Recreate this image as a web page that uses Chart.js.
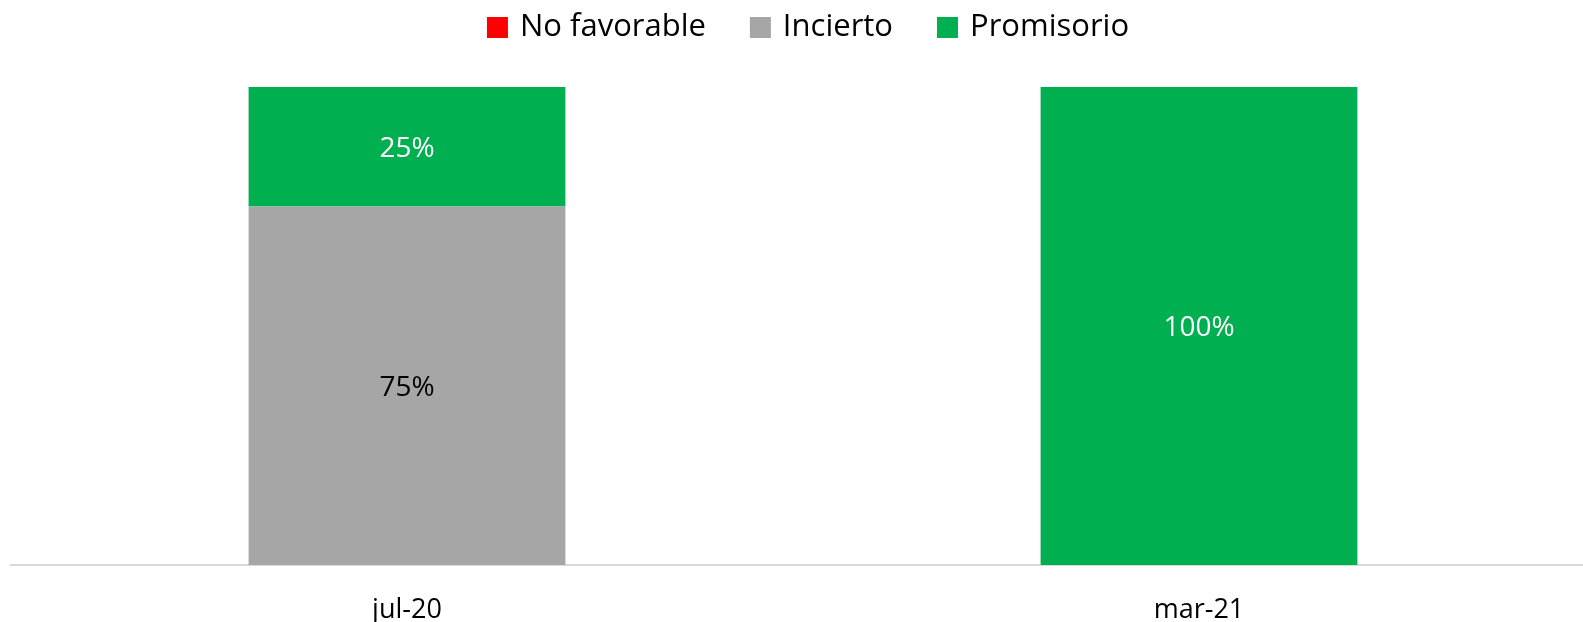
<!DOCTYPE html>
<html lang="es">
<head>
<meta charset="utf-8">
<title>Perspectiva</title>
<script src="https://cdn.jsdelivr.net/npm/chart.js@4/dist/chart.umd.min.js"></script>
<style>
  html, body { margin: 0; padding: 0; background: #ffffff; }
  #wrap { width: 1583px; height: 622px; overflow: hidden; position: relative; }
  canvas { display: block; }
</style>
</head>
<body>
<div id="wrap"><canvas id="chart" width="1605" height="622"></canvas></div>
<script>
// Periods and the share (%) of each outlook per period
const periods = ['jul-20', 'mar-21'];
const seriesNames = ['No favorable', 'Incierto', 'Promisorio'];
const noFavorable = [0, 0];
const incierto = [75, 0];
const promisorio = [25, 100];

const colors = ['#ff0000', '#a6a6a6', '#00b050'];
const labelColors = ['#ffffff', '#000000', '#ffffff'];
const FONT = '"Open Sans", "DejaVu Sans", sans-serif';

// Legend row drawn across the top of the canvas
const topLegend = {
  id: 'topLegend',
  afterDraw(chart) {
    const ctx = chart.ctx;
    const box = 21, gapText = 12, gapItem = 44;
    ctx.save();
    ctx.font = '31px ' + FONT;
    const items = chart.data.datasets.map(ds => ({
      text: ds.label, color: ds.backgroundColor, w: ctx.measureText(ds.label).width
    }));
    const total = items.reduce((s, it) => s + box + gapText + it.w, 0) + gapItem * (items.length - 1);
    const center = (chart.chartArea.left + chart.chartArea.right) / 2 + 5;
    let x = center - total / 2;
    items.forEach(it => {
      ctx.fillStyle = it.color;
      ctx.fillRect(x, 17, box, box);
      ctx.fillStyle = '#000000';
      ctx.textAlign = 'left';
      ctx.textBaseline = 'alphabetic';
      ctx.fillText(it.text, x + box + gapText, 36);
      x += box + gapText + it.w + gapItem;
    });
    ctx.restore();
  }
};

// Percentage labels in the middle of each stacked segment
const segmentLabels = {
  id: 'segmentLabels',
  afterDatasetsDraw(chart) {
    const ctx = chart.ctx;
    ctx.save();
    ctx.font = '28px ' + FONT;
    ctx.textAlign = 'center';
    ctx.textBaseline = 'alphabetic';
    chart.data.datasets.forEach((ds, di) => {
      const meta = chart.getDatasetMeta(di);
      meta.data.forEach((bar, i) => {
        const v = ds.data[i];
        if (!v) return;
        const mid = (bar.y + bar.base) / 2;
        ctx.fillStyle = labelColors[di];
        ctx.fillText(v + '%', bar.x, mid + 10);
      });
    });
    ctx.restore();
  }
};

new Chart(document.getElementById('chart'), {
  type: 'bar',
  data: {
    labels: periods,
    datasets: [
      { label: seriesNames[0], data: noFavorable, backgroundColor: colors[0] },
      { label: seriesNames[1], data: incierto, backgroundColor: colors[1] },
      { label: seriesNames[2], data: promisorio, backgroundColor: colors[2] }
    ]
  },
  options: {
    responsive: false,
    animation: false,
    events: [],
    layout: { padding: { top: 87, left: 11, right: 10, bottom: 0 } },
    datasets: {
      bar: { categoryPercentage: 1, barPercentage: 0.4, borderWidth: 0 }
    },
    plugins: {
      legend: { display: false },
      tooltip: { enabled: false }
    },
    scales: {
      x: {
        stacked: true,
        grid: { display: false, drawTicks: false },
        border: { display: true, color: '#d9d9d9', width: 2 },
        ticks: { color: '#000000', font: { family: FONT, size: 27 }, padding: 29 },
        afterFit(scale) { scale.height = 57; }
      },
      y: {
        stacked: true,
        display: false,
        min: 0,
        max: 100
      }
    }
  },
  plugins: [topLegend, segmentLabels]
});
</script>
</body>
</html>
